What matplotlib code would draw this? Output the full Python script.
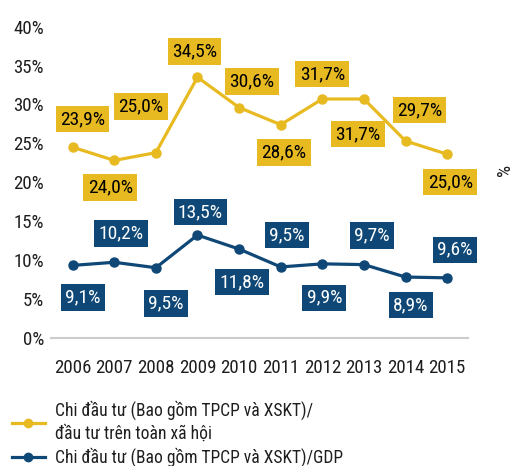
import matplotlib
matplotlib.use("Agg")
import matplotlib.pyplot as plt
from matplotlib import font_manager
from matplotlib.lines import Line2D

# prefer a condensed face if one is around, otherwise plain Liberation Sans
names = {f.name for f in font_manager.fontManager.ttflist}
narrow = next((n for n in ["Liberation Sans Narrow", "Roboto Condensed", "Open Sans Condensed"]
               if n in names), None)
plt.rcParams['font.family'] = [narrow or 'Liberation Sans', 'DejaVu Sans']
scale = 1.15 if narrow else 1.0

years = ["2006", "2007", "2008", "2009", "2010", "2011", "2012", "2013", "2014", "2015"]
# share of total social investment (%)
invest_share = [24.5, 22.8, 23.8, 33.5, 29.6, 27.4, 30.7, 30.7, 25.3, 23.6]
invest_labels = ["23,9%", "24,0%", "25,0%", "34,5%", "30,6%", "28,6%", "31,7%", "31,7%", "29,7%", "25,0%"]
# share of GDP (%)
gdp_share = [9.3, 9.7, 9.0, 13.2, 11.4, 9.1, 9.5, 9.4, 7.8, 7.7]
gdp_labels = ["9,1%", "10,2%", "9,5%", "13,5%", "11,8%", "9,5%", "9,9%", "9,7%", "8,9%", "9,6%"]
legend_names = ["Chi đầu tư (Bao gồm TPCP và XSKT)/\nđầu tư trên toàn xã hội",
                "Chi đầu tư (Bao gồm TPCP và XSKT)/GDP"]

YEL = "#E8BA22"
BLU = "#0F4876"
TXT = "#1e1e1e"

# label box offsets from each point, in pixels (x right, y up)
yel_off = [(10, 28), (-4, -27), (-15, 46), (-3, 26), (13, 26),
           (3, -28), (0, 25), (-6, -35), (14, 31), (3, -28)]
blu_off = [(10, -32), (7, 29), (10, -36), (3, 23), (3, -33),
           (6, 32), (2, -34), (8, 29), (5, -28), (8, 28)]

fig = plt.figure(figsize=(5.14, 4.66), dpi=100)
ax = fig.add_axes([51/514, 1 - 337.7/466, (468 - 51)/514, (337.7 - 26.7)/466])

x = list(range(len(years)))
ax.plot(x, invest_share, color=YEL, lw=2.3, marker="o", ms=6.5, zorder=3, clip_on=False)
ax.plot(x, gdp_share, color=BLU, lw=2.3, marker="o", ms=6.5, zorder=3, clip_on=False)

lab_fs = 12.2 * scale
box = "square,pad=0.22"
for i, (v, s) in enumerate(zip(invest_share, invest_labels)):
    ax.annotate(s, (i, v), xytext=yel_off[i], textcoords="offset pixels",
                ha="center", va="center", fontsize=lab_fs, color="black",
                bbox=dict(boxstyle=box, fc=YEL, ec="none"), zorder=4)
for i, (v, s) in enumerate(zip(gdp_share, gdp_labels)):
    ax.annotate(s, (i, v), xytext=blu_off[i], textcoords="offset pixels",
                ha="center", va="center", fontsize=lab_fs, color="white",
                bbox=dict(boxstyle=box, fc=BLU, ec="none"), zorder=4)

ax.set_xlim(-0.52, 9.5)
ax.set_ylim(0, 40)
ax.set_xticks(x)
ax.set_xticklabels(years)
ax.set_yticks(range(0, 41, 5))
ax.set_yticklabels([f"{t}%" for t in range(0, 41, 5)])
ax.tick_params(length=0, labelsize=11.8 * scale, colors=TXT)
ax.tick_params(axis="x", pad=15)
ax.tick_params(axis="y", pad=5)
for sp in ["top", "right", "left"]:
    ax.spines[sp].set_visible(False)
ax.spines["bottom"].set_color("#cccccc")
ax.spines["bottom"].set_linewidth(1.5)

fig.text(505/514, 1 - 170/466, "%", rotation=90, ha="center", va="center",
         fontsize=12 * scale, color=TXT)

handles = [Line2D([], [], color=YEL, lw=2.3, marker="o", ms=6),
           Line2D([], [], color=BLU, lw=2.3, marker="o", ms=6)]
leg = fig.legend(handles, legend_names, loc="upper left", bbox_to_anchor=(12/514, 1 - 401/466),
                 frameon=False, fontsize=11 * scale, handlelength=1.85, handletextpad=0.6,
                 labelspacing=0.3, borderpad=0, borderaxespad=0, labelcolor=TXT)
for t in leg.get_texts():
    t.set_linespacing(1.3)

fig.savefig("out.png", dpi=100)
